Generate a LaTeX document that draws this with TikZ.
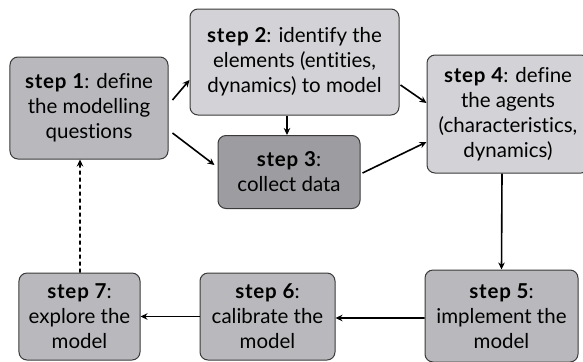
\documentclass[tikz,border=0pt]{standalone}
\usepackage{fontspec}
\setmainfont{Lato}[Ligatures=NoCommon]
\usetikzlibrary{arrows.meta,calc}
\definecolor{cmid}{HTML}{B9B9BD}
\definecolor{clight}{HTML}{D3D3D7}
\definecolor{cdark}{HTML}{9D9DA1}
\definecolor{cedge}{HTML}{3A3A3A}
\newcommand\stp[1]{{\bfseries\addfontfeatures{LetterSpace=4}step~#1}}
\tikzset{
  box/.style={draw=cedge, line width=1bp, rounded corners=8bp, align=center,
    inner sep=0pt, font=\fontsize{20.5bp}{25bp}\selectfont},
  arr/.style={line width=1.6bp, -{Stealth[length=7bp,width=6.5bp]}},
  dotarr/.style={arr, dash pattern=on 4bp off 3bp}
}
\begin{document}
\begin{tikzpicture}[x=1bp,y=-1bp]
\useasboundingbox (0,0) rectangle (583,361);
\node[box, fill=cmid, minimum width=158bp, minimum height=102bp] (s1) at (89,108)
  {\stp{1}: define\\the modelling\\questions};
\node[box, fill=clight, minimum width=209bp, minimum height=106bp] (s2) at (294.5,62)
  {\stp{2}: identify the\\elements (entities,\\dynamics) to model};
\node[box, fill=cdark, minimum width=142bp, minimum height=73bp] (s3) at (289,172)
  {\stp{3}:\\collect data};
\node[box, fill=clight, minimum width=162bp, minimum height=118bp] (s4) at (508,114)
  {\stp{4}: define\\the agents\\(characteristics,\\dynamics)};
\node[box, fill=cmid, minimum width=153bp, minimum height=92bp] (s5) at (501.5,316)
  {\stp{5}:\\implement the\\model};
\node[box, fill=cmid, minimum width=135bp, minimum height=87bp] (s6) at (267.5,316.5)
  {\stp{6}:\\calibrate the\\model};
\node[box, fill=cmid, minimum width=121bp, minimum height=87bp] (s7) at (79.5,316.5)
  {\stp{7}:\\explore the\\model};
\draw[arr] ($(s1.east)+(4,-8)$) -- ($(s2.west)+(0,18)$);
\draw[arr] ($(s1.east)+(4,25)$) -- ($(s3.west)+(-3,-7)$);
\draw[arr] ($(s2.south)+(-7.5,0)$) -- ($(s3.north)+(-2,0)$);
\draw[arr] ($(s2.east)+(1,23)$) -- ($(s4.west)+(0,-11)$);
\draw[arr] ($(s3.east)+(2,1)$) -- ($(s4.west)+(0,28)$);
\draw[arr] ($(s4.south)+(-6,0)$) -- (s5.north);
\draw[arr] ($(s5.west)+(0,2)$) -- ($(s6.east)+(0,1.5)$);
\draw[arr] (s6.west) -- (s7.east);
\draw[dotarr] ($(s7.north)+(0.5,0)$) -- ($(s1.south)+(-9,0)$);
\end{tikzpicture}
\end{document}
